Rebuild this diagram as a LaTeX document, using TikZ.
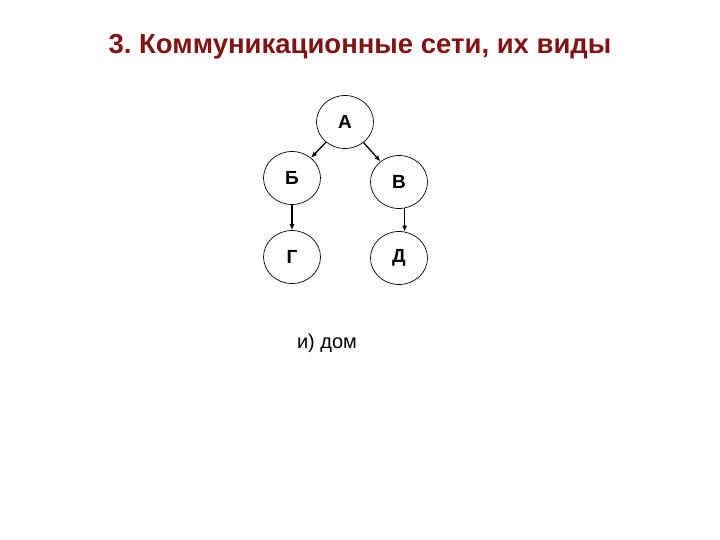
\documentclass[tikz,border=0pt]{standalone}
\usepackage{fontspec}
\setmainfont{Liberation Sans}
\usetikzlibrary{shapes.geometric, arrows.meta}
\definecolor{titlered}{RGB}{128,20,20}

\begin{document}
\begin{tikzpicture}[x = 1pt, y = -1pt, >={Latex[length = 6pt, width = 5pt]},
	vertex/.style = {draw, ellipse, line width = .7pt, minimum width = 57pt, minimum height = 53pt, inner sep = 0pt, font = \bfseries\fontsize{19}{19}\selectfont},
	edge/.style = {->, line width = 1.3pt}]
	\useasboundingbox (0, 0) rectangle (720, 540);
	
	\node[text = titlered, font = \bfseries\fontsize{27.5}{27.5}\selectfont] (title) at (360, 47) {3.\ Коммуникационные сети, их виды};
	
	\node[vertex] (a) at (345, 122) {А};
	\node[vertex] (b) at (292, 178) {Б};
	\node[vertex] (v) at (399, 182) {В};
	\node[vertex] (g) at (292, 257) {Г};
	\node[vertex] (d) at (399, 258) {Д};
	
	\node[font = \fontsize{20}{20}\selectfont] (caption) at (327, 343) {и) дом};
	
	\draw[edge] (a) -- (b);
	\draw[edge] (a) -- (v);
	\draw[edge] (b) -- (g);
	\draw[edge] (v.-78) -- (d.78);
\end{tikzpicture}
\end{document}
